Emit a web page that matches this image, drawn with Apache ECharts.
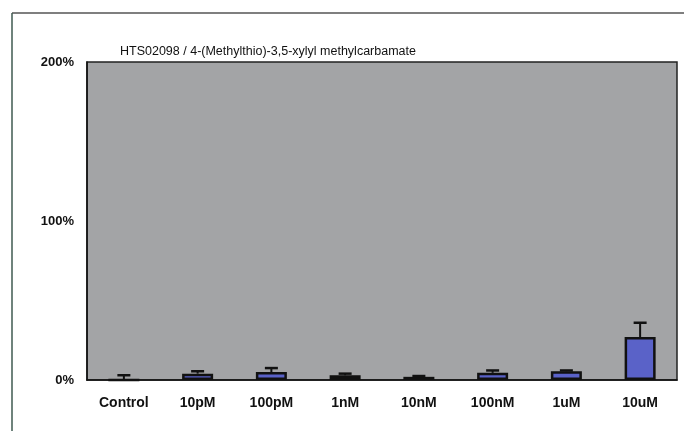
<!DOCTYPE html>
<html>
<head>
<meta charset="utf-8">
<script src="https://cdn.jsdelivr.net/npm/echarts@6/dist/echarts.min.js"></script>
<style>
  html, body { margin: 0; padding: 0; background: #fff; }
  #chart { width: 687px; height: 431px; }
</style>
</head>
<body>
<div id="chart"></div>
<script>
// values (percent of control)
const categories = ['Control', '10pM', '100pM', '1nM', '10nM', '100nM', '1uM', '10uM']
const means = [0, 4, 5, 3, 2, 4.5, 5.5, 27]
const errors = [3, 1.5, 2.5, 1, 0.5, 1.5, 0.5, 9]
const yTicks = [0, 100, 200]

const chart = echarts.init(document.getElementById('chart'))

chart.setOption({
  animation: false,
  title: {
    text: 'HTS02098 / 4-(Methylthio)-3,5-xylyl methylcarbamate',
    left: 115,
    top: 40,
    textStyle: { fontSize: 12.5, fontWeight: 'normal', color: '#111', fontFamily: 'Liberation Sans' },
  },
  graphic: [
    { type: 'line', shape: { x1: 12, y1: 13, x2: 684, y2: 13 }, style: { stroke: '#555', lineWidth: 1.5 } },
    { type: 'line', shape: { x1: 12, y1: 13, x2: 12, y2: 431 }, style: { stroke: '#3f5a50', lineWidth: 1.5 } },
  ],
  grid: {
    left: 87, right: 10, top: 62, bottom: 51,
    show: true,
    backgroundColor: '#a3a4a6',
    borderColor: '#222',
    borderWidth: 1.5,
  },
  xAxis: {
    type: 'category',
    data: categories,
    axisLine: { lineStyle: { color: '#111', width: 1.5 } },
    axisTick: { inside: true, length: 4, lineStyle: { color: '#111' } },
    axisLabel: { margin: 16, color: '#111', fontWeight: 'bold', fontSize: 14, fontFamily: 'Liberation Sans' },
  },
  yAxis: {
    type: 'value',
    min: yTicks[0],
    max: yTicks[yTicks.length - 1],
    interval: 100,
    axisLine: { show: true, lineStyle: { color: '#111', width: 1.5 } },
    axisTick: { show: false },
    splitLine: { show: false },
    axisLabel: { formatter: '{value}%', margin: 13, color: '#111', fontWeight: 'bold', fontSize: 13, fontFamily: 'Liberation Sans' },
  },
  series: [
    {
      type: 'bar',
      data: means,
      barWidth: 31,
      itemStyle: { color: '#5a62c8', borderColor: '#111', borderWidth: 2.5 },
    },
    {
      type: 'custom',
      data: means.map((m, i) => [i, m, m + errors[i]]),
      renderItem: (params, api) => {
        const base = api.coord([api.value(0), api.value(1)])
        const top = api.coord([api.value(0), api.value(2)])
        const half = 6.5
        return {
          type: 'group',
          children: [
            { type: 'line', shape: { x1: base[0], y1: base[1], x2: top[0], y2: top[1] }, style: { stroke: '#111', lineWidth: 2 } },
            { type: 'line', shape: { x1: top[0] - half, y1: top[1], x2: top[0] + half, y2: top[1] }, style: { stroke: '#111', lineWidth: 2.5 } },
          ],
        }
      },
      z: 3,
    },
  ],
})
</script>
</body>
</html>
